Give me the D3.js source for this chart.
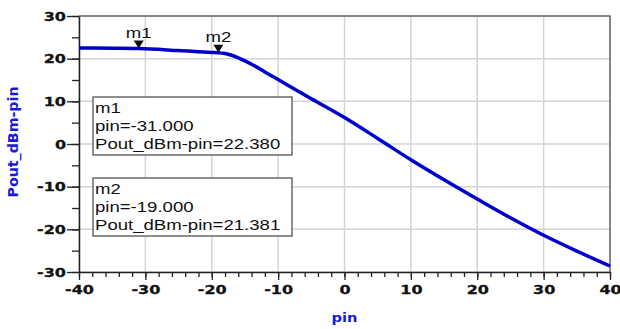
<!DOCTYPE html>
<html><head><meta charset="utf-8">
<script src="https://cdn.jsdelivr.net/npm/d3@7"></script>
<style>
html,body{margin:0;padding:0;background:#fff;}
svg{display:block;}
</style></head>
<body>
<svg id="chart" width="620" height="329"></svg>
<script>
// ---- data ----
const pinValues  = [-40, -35, -31, -25, -20, -19, -18, -17, -16, -15, -14, -12, -10, -5, 0, 5, 10, 15, 20, 25, 30, 35, 40];
const poutValues = [22.5, 22.45, 22.38, 21.9, 21.45, 21.381, 21.2, 20.8, 20.2, 19.5, 18.7, 16.9, 15.1, 10.6, 6.2, 1.3, -3.7, -8.4, -12.9, -17.3, -21.4, -25.1, -28.6];
const markerNames = ["m1", "m2"];
const markerPin = [-31, -19];
const markerValue = [22.380, 21.381];
const xTickValues = [-40, -30, -20, -10, 0, 10, 20, 30, 40];
const yTickValues = [-30, -20, -10, 0, 10, 20, 30];
const xMinorTicks = d3.range(-40, 40.001, 2);
const yMinorTicks = d3.range(-30, 30.001, 5);
const xLabel = "pin";
const yLabel = "Pout_dBm-pin";

// ---- layout ----
const L = 79, R = 610, T = 16, B = 272;
const STRETCH = 1.28;
const svg = d3.select("#chart");
const x = d3.scaleLinear().domain([-40, 40]).range([L, R]);
const y = d3.scaleLinear().domain([-30, 30]).range([B, T]);
const locale = d3.formatLocale({decimal: ".", thousands: ",", grouping: [3], currency: ["", ""], minus: "-"});
const fmtInt = locale.format("d");
const fmt3 = locale.format(".3f");

function stretch(sel, f) {
  sel.each(function () {
    const w = this.getComputedTextLength();
    d3.select(this).attr("textLength", w * f).attr("lengthAdjust", "spacingAndGlyphs");
  });
}

// grid
const grid = svg.append("g").attr("stroke", "#d4d4d4").attr("stroke-width", 1.5);
grid.selectAll(".gx").data(xTickValues).join("line")
  .attr("x1", d => x(d)).attr("x2", d => x(d)).attr("y1", T).attr("y2", B);
grid.selectAll(".gy").data(yTickValues).join("line")
  .attr("x1", L).attr("x2", R).attr("y1", d => y(d)).attr("y2", d => y(d));

// top/right border
svg.append("path").attr("d", `M${L},${T}H${R}V${B}`).attr("fill", "none")
  .attr("stroke", "#6a6a6a").attr("stroke-width", 1.5);

// axes
const tickFont = "DejaVu Sans, Verdana, sans-serif";
const xMinor = svg.append("g").attr("transform", `translate(0,${B})`)
  .call(d3.axisBottom(x).tickValues(xMinorTicks).tickSize(5).tickFormat(""));
const yMinor = svg.append("g").attr("transform", `translate(${L},0)`)
  .call(d3.axisLeft(y).tickValues(yMinorTicks).tickSize(7).tickFormat(""));
[xMinor, yMinor].forEach(g => { g.select(".domain").remove(); g.selectAll("line").attr("stroke", "#222").attr("stroke-width", 1.3); });

const xAxis = svg.append("g").attr("transform", `translate(0,${B})`)
  .call(d3.axisBottom(x).tickValues(xTickValues).tickSize(8).tickPadding(5).tickSizeOuter(0).tickFormat(fmtInt));
const yAxis = svg.append("g").attr("transform", `translate(${L},0)`)
  .call(d3.axisLeft(y).tickValues(yTickValues).tickSize(12).tickPadding(1).tickSizeOuter(0).tickFormat(fmtInt));
[xAxis, yAxis].forEach(g => {
  g.select(".domain").attr("stroke", "#222").attr("stroke-width", 1.5);
  g.selectAll("line").attr("stroke", "#222").attr("stroke-width", 1.3);
  g.selectAll("text").attr("font-family", tickFont).attr("font-weight", "bold")
    .attr("font-size", 12.5).attr("fill", "#111").attr("stroke", "#111").attr("stroke-width", 0.3)
    .call(stretch, STRETCH);
});

// curve
svg.append("path")
  .datum(d3.zip(pinValues, poutValues))
  .attr("fill", "none").attr("stroke", "#0000cc").attr("stroke-width", 3.5)
  .attr("stroke-linejoin", "round")
  .attr("d", d3.line().x(d => x(d[0])).y(d => y(d[1])).curve(d3.curveMonotoneX));

// markers
const markers = svg.append("g");
markerNames.forEach((name, i) => {
  const px = x(markerPin[i]), py = y(markerValue[i]);
  markers.append("path").attr("d", `M${px - 5},${py - 8}L${px + 5},${py - 8}L${px},${py}Z`).attr("fill", "#111");
  markers.append("text").attr("x", px).attr("y", py - 11).attr("text-anchor", "middle")
    .attr("font-family", "Liberation Sans, Arial, sans-serif").attr("font-size", 14.5)
    .attr("fill", "#111").text(name).call(stretch, STRETCH);
});

// marker readout boxes
const boxTops = [97, 178];
markerNames.forEach((name, i) => {
  const g = svg.append("g");
  g.append("rect").attr("x", 93).attr("y", boxTops[i]).attr("width", 199).attr("height", 58)
    .attr("fill", "#fff").attr("stroke", "#444").attr("stroke-width", 1.2);
  const lines = [name, "pin=" + fmt3(markerPin[i]), "Pout_dBm-pin=" + fmt3(markerValue[i])];
  g.selectAll("text").data(lines).join("text")
    .attr("x", 95).attr("y", (d, j) => boxTops[i] + 16 + j * 17.9)
    .attr("font-family", "Liberation Sans, Arial, sans-serif").attr("font-size", 14.5)
    .attr("fill", "#111").text(d => d).call(stretch, STRETCH);
});

// axis labels
svg.append("text").attr("x", x(0)).attr("y", 322).attr("text-anchor", "middle")
  .attr("font-family", tickFont).attr("font-weight", "bold").attr("font-size", 11.5)
  .attr("fill", "#1a1ad8").text(xLabel).call(stretch, STRETCH);
svg.append("text").attr("transform", `translate(18,142) rotate(-90)`).attr("text-anchor", "middle")
  .attr("font-family", tickFont).attr("font-weight", "bold").attr("font-size", 14)
  .attr("fill", "#1a1ad8").text(yLabel)
  .call(s => s.attr("textLength", 111).attr("lengthAdjust", "spacingAndGlyphs"));
</script>
</body></html>
